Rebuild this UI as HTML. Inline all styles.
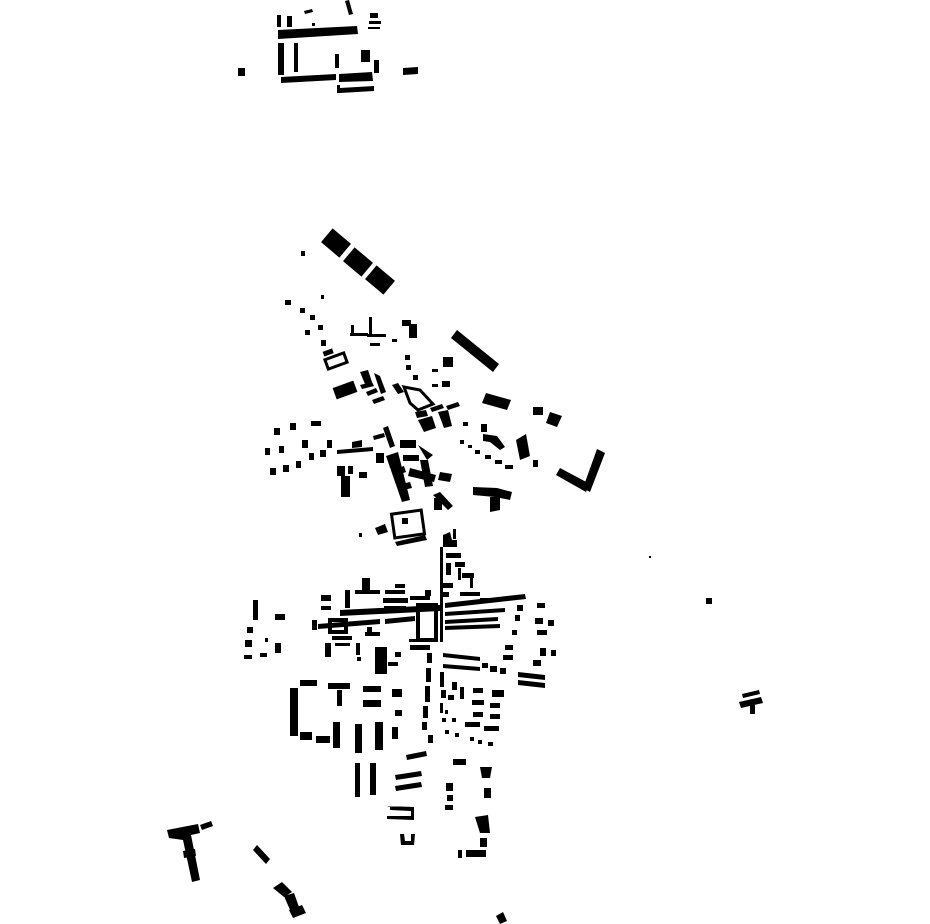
<!DOCTYPE html>
<html><head><meta charset="utf-8"><style>html,body{margin:0;padding:0;background:#fff}svg{display:block}</style></head>
<body>
<svg width="930" height="924" viewBox="0 0 930 924" xmlns="http://www.w3.org/2000/svg">
<g fill="#000">
<!-- top cluster -->
<polygon points="278,30 357,26 358,34 278,39"/>
<rect x="277" y="15" width="4" height="12"/>
<rect x="287" y="16" width="5" height="11"/>
<polygon points="304,11 312,9 313,12 305,14"/>
<polygon points="345,1 349,0 353,14 349,15"/>
<rect x="312" y="23" width="3" height="3"/>
<rect x="370" y="13" width="8" height="5"/>
<rect x="369" y="21" width="12" height="3"/>
<rect x="368" y="27" width="12" height="2"/>
<rect x="278" y="43" width="6" height="32"/>
<rect x="294" y="43" width="4" height="29"/>
<rect x="335" y="54" width="4" height="14"/>
<rect x="361" y="50" width="9" height="12"/>
<rect x="374" y="60" width="5" height="13"/>
<polygon points="281,77 336,74 336,80 281,83"/>
<polygon points="339,74 372,72 373,81 339,82"/>
<rect x="337" y="85" width="3" height="8"/>
<polygon points="340,88 374,86 374,91 340,93"/>
<rect x="238" y="68" width="7" height="8"/>
<polygon points="403,68 418,67 418,74 403,75"/>

<!-- middle cluster -->
<rect x="-12" y="-9" width="24" height="18" transform="translate(336,243) rotate(40)"/>
<rect x="-12" y="-9" width="24" height="18" transform="translate(358,262) rotate(40)"/>
<rect x="-12" y="-9" width="24" height="18" transform="translate(380,280) rotate(40)"/>
<rect x="301" y="251" width="4" height="5"/>
<polygon points="457,330 499,364 493,372 451,338"/>
<rect x="285" y="300" width="6" height="5"/>
<rect x="300" y="308" width="5" height="5"/>
<rect x="310" y="315" width="5" height="5"/>
<rect x="318" y="325" width="5" height="5"/>
<rect x="305" y="330" width="5" height="5"/>
<rect x="321" y="340" width="5" height="6"/>
<rect x="321" y="295" width="3" height="4"/>
<rect x="323" y="350" width="10" height="5" transform="rotate(-20 328 352)"/>
<rect x="326" y="356" width="20" height="10" fill="none" stroke="#000" stroke-width="3" transform="rotate(-20 336 361)"/>
<rect x="334" y="384" width="22" height="12" transform="rotate(-20 345 390)"/>
<rect x="351" y="325" width="3" height="10"/>
<rect x="350" y="333" width="18" height="3"/>
<rect x="369" y="317" width="3" height="18"/>
<rect x="367" y="334" width="19" height="3"/>
<rect x="370" y="343" width="10" height="3"/>
<rect x="392" y="339" width="5" height="3"/>
<rect x="402" y="320" width="9" height="6"/>
<rect x="409" y="324" width="8" height="14"/>
<rect x="405" y="355" width="5" height="5"/>
<rect x="406" y="365" width="5" height="5"/>
<rect x="413" y="375" width="5" height="5"/>
<rect x="443" y="357" width="10" height="10"/>
<rect x="432" y="369" width="6" height="3"/>
<rect x="432" y="384" width="6" height="3"/>
<rect x="442" y="381" width="8" height="6"/>
<polygon points="404,387 420,390 433,404 418,410 410,403" fill="none" stroke="#000" stroke-width="3"/>
<polygon points="360,372 368,370 372,382 365,384"/>
<polygon points="360,385 372,382 374,386 362,389"/>
<polygon points="366,392 376,388 378,392 368,396"/>
<polygon points="374,373 380,376 386,392 381,394"/>
<polygon points="372,400 383,396 385,400 374,404"/>
<polygon points="392,385 398,383 404,392 398,394"/>
<polygon points="415,412 426,410 428,416 417,418"/>
<polygon points="418,420 432,416 436,428 424,432"/>
<polygon points="430,408 442,404 444,408 432,412"/>
<polygon points="438,412 448,410 452,426 444,428"/>
<polygon points="446,406 458,402 460,406 448,410"/>
<polygon points="486,393 511,400 507,410 482,403"/>
<rect x="533" y="407" width="10" height="8"/>
<polygon points="550,412 562,416 557,427 546,423"/>
<polygon points="597,449 605,453 590,492 583,488"/>
<polygon points="556,475 560,468 590,484 586,492"/>
<polygon points="516,440 526,434 530,456 520,460"/>
<rect x="533" y="460" width="5" height="7"/>
<polygon points="473,487 497,488 512,492 510,500 495,497 473,495"/>
<polygon points="490,497 500,497 500,510 490,512"/>
<rect x="463" y="422" width="5" height="4"/>
<polygon points="481,424 487,424 487,432 481,432"/>
<polygon points="483,434 497,436 505,447 500,450 490,442 483,441"/>
<rect x="460" y="440" width="4" height="4"/>
<rect x="468" y="445" width="4" height="3"/>
<rect x="475" y="450" width="5" height="4"/>
<rect x="485" y="455" width="6" height="4"/>
<rect x="495" y="460" width="7" height="4"/>
<rect x="505" y="465" width="8" height="4"/>
<rect x="274" y="428" width="6" height="7"/>
<rect x="290" y="423" width="6" height="7"/>
<rect x="311" y="421" width="10" height="5"/>
<rect x="265" y="448" width="5" height="7"/>
<rect x="279" y="446" width="5" height="7"/>
<rect x="302" y="440" width="6" height="8"/>
<rect x="327" y="440" width="5" height="8"/>
<rect x="270" y="468" width="6" height="7"/>
<rect x="283" y="465" width="6" height="7"/>
<rect x="296" y="461" width="5" height="7"/>
<rect x="309" y="453" width="5" height="7"/>
<rect x="320" y="450" width="6" height="7"/>
<polygon points="337,450 373,447 373,451 337,454"/>
<polygon points="352,442 362,440 362,447 352,448"/>
<rect x="337" y="466" width="8" height="10"/>
<rect x="341" y="476" width="9" height="21"/>
<rect x="348" y="466" width="5" height="8"/>
<rect x="359" y="472" width="8" height="6"/>
<polygon points="383,428 388,426 395,446 390,448"/>
<polygon points="373,436 384,433 385,437 374,440"/>
<rect x="376" y="453" width="8" height="10"/>
<polygon points="386,456 398,452 410,500 402,502"/>
<polygon points="393,470 404,466 406,472 395,476"/>
<polygon points="397,485 410,482 412,488 399,491"/>
<rect x="400" y="440" width="16" height="8"/>
<rect x="403" y="455" width="16" height="6"/>
<polygon points="418,445 433,455 427,460"/>
<polygon points="420,460 428,460 433,486 425,487"/>
<polygon points="410,468 436,475 434,482 408,476"/>
<polygon points="440,472 452,474 450,482 438,480"/>
<polygon points="433,495 440,492 453,506 448,510"/>
<rect x="434" y="498" width="8" height="12"/>
<rect x="393" y="512" width="30" height="24" fill="none" stroke="#000" stroke-width="3" transform="rotate(-8 408 524)"/>
<rect x="402" y="518" width="6" height="6"/>
<polygon points="395,542 425,535 427,540 397,546"/>
<polygon points="375,528 385,524 388,532 378,535"/>
<rect x="359" y="533" width="3" height="4"/>
<polygon points="443,535 450,532 452,540 457,540 457,547 443,547"/>
<rect x="453" y="529" width="3" height="10"/>

<!-- lower cluster -->
<rect x="253" y="600" width="5" height="20"/>
<rect x="247" y="627" width="6" height="6"/>
<rect x="245" y="640" width="7" height="7"/>
<rect x="244" y="655" width="8" height="4"/>
<rect x="260" y="653" width="7" height="4"/>
<rect x="275" y="614" width="10" height="6"/>
<rect x="265" y="638" width="3" height="4"/>
<rect x="275" y="643" width="6" height="10"/>
<rect x="321" y="595" width="10" height="6"/>
<rect x="321" y="606" width="10" height="4"/>
<rect x="345" y="590" width="5" height="18"/>
<rect x="362" y="578" width="8" height="12"/>
<rect x="355" y="590" width="25" height="4"/>
<polygon points="340,610 440,605 440,611 340,616"/>
<polygon points="318,624 380,619 380,624 318,629"/>
<polygon points="385,619 415,616 415,621 385,624"/>
<rect x="384" y="606" width="22" height="5"/>
<rect x="385" y="590" width="20" height="4"/>
<rect x="395" y="584" width="10" height="4"/>
<rect x="383" y="598" width="25" height="5"/>
<rect x="410" y="596" width="20" height="4"/>
<rect x="425" y="590" width="6" height="6"/>
<rect x="418" y="605" width="18" height="35" fill="none" stroke="#000" stroke-width="4"/>
<rect x="330" y="620" width="16" height="12" fill="none" stroke="#000" stroke-width="4"/>
<rect x="312" y="620" width="5" height="10"/>
<rect x="332" y="636" width="20" height="4"/>
<rect x="365" y="632" width="15" height="4"/>
<rect x="367" y="627" width="5" height="8"/>
<rect x="325" y="643" width="6" height="14"/>
<rect x="335" y="643" width="15" height="3"/>
<rect x="356" y="643" width="4" height="12"/>
<rect x="357" y="657" width="4" height="4"/>
<rect x="375" y="647" width="12" height="27"/>
<rect x="395" y="652" width="6" height="5"/>
<rect x="388" y="662" width="10" height="4"/>
<rect x="410" y="645" width="20" height="5"/>
<rect x="409" y="639" width="14" height="3"/>
<rect x="440" y="547" width="3" height="95"/>
<rect x="446" y="553" width="15" height="5"/>
<rect x="446" y="563" width="5" height="12"/>
<rect x="455" y="562" width="10" height="5"/>
<rect x="458" y="568" width="3" height="12"/>
<rect x="462" y="573" width="12" height="5"/>
<rect x="470" y="578" width="3" height="10"/>
<rect x="443" y="583" width="10" height="5"/>
<rect x="443" y="592" width="6" height="5"/>
<polygon points="445,603 525,594 526,599 445,608"/>
<polygon points="445,612 505,608 505,612 445,616"/>
<polygon points="445,620 498,617 498,621 445,624"/>
<polygon points="445,626 500,624 500,628 445,630"/>
<rect x="460" y="592" width="20" height="4"/>
<rect x="480" y="598" width="15" height="4"/>
<rect x="517" y="605" width="6" height="6"/>
<rect x="515" y="615" width="5" height="6"/>
<rect x="512" y="630" width="5" height="5"/>
<rect x="537" y="603" width="8" height="5"/>
<rect x="535" y="618" width="8" height="6"/>
<rect x="548" y="620" width="6" height="6"/>
<rect x="537" y="630" width="10" height="5"/>
<rect x="540" y="648" width="6" height="8"/>
<rect x="551" y="650" width="5" height="6"/>
<rect x="533" y="660" width="8" height="6"/>
<rect x="427" y="653" width="5" height="10"/>
<rect x="426" y="668" width="5" height="14"/>
<rect x="425" y="686" width="5" height="16"/>
<rect x="423" y="706" width="5" height="12"/>
<rect x="422" y="722" width="5" height="8"/>
<rect x="428" y="735" width="5" height="8"/>
<polygon points="443,653 480,657 480,661 443,657"/>
<polygon points="443,664 480,667 480,671 443,668"/>
<rect x="482" y="663" width="6" height="5"/>
<rect x="490" y="666" width="7" height="6"/>
<rect x="500" y="668" width="6" height="6"/>
<rect x="503" y="655" width="10" height="5"/>
<rect x="505" y="645" width="8" height="5"/>
<polygon points="518,672 545,675 545,680 518,677"/>
<polygon points="518,680 545,683 545,688 518,685"/>
<rect x="440" y="672" width="4" height="15"/>
<rect x="441" y="690" width="5" height="8"/>
<rect x="452" y="682" width="5" height="8"/>
<rect x="448" y="695" width="6" height="5"/>
<rect x="460" y="687" width="4" height="12"/>
<rect x="473" y="688" width="10" height="5"/>
<rect x="492" y="690" width="12" height="7"/>
<rect x="472" y="700" width="12" height="5"/>
<rect x="490" y="703" width="10" height="5"/>
<rect x="473" y="712" width="10" height="5"/>
<rect x="490" y="714" width="10" height="5"/>
<rect x="465" y="722" width="15" height="5"/>
<rect x="484" y="726" width="15" height="5"/>
<rect x="440" y="703" width="3" height="10"/>
<rect x="445" y="710" width="3" height="4"/>
<rect x="442" y="718" width="4" height="4"/>
<rect x="452" y="718" width="4" height="4"/>
<rect x="445" y="730" width="4" height="4"/>
<rect x="455" y="733" width="4" height="4"/>
<rect x="470" y="737" width="4" height="4"/>
<rect x="478" y="740" width="4" height="4"/>
<rect x="488" y="742" width="5" height="4"/>
<rect x="290" y="688" width="8" height="48"/>
<rect x="300" y="680" width="17" height="6"/>
<rect x="328" y="683" width="22" height="6"/>
<rect x="337" y="690" width="5" height="16"/>
<rect x="363" y="686" width="18" height="6"/>
<rect x="363" y="700" width="18" height="7"/>
<rect x="392" y="689" width="10" height="8"/>
<rect x="395" y="710" width="7" height="6"/>
<rect x="300" y="732" width="12" height="8"/>
<rect x="316" y="736" width="14" height="7"/>
<rect x="333" y="722" width="7" height="26"/>
<rect x="355" y="724" width="7" height="29"/>
<rect x="375" y="722" width="8" height="28"/>
<rect x="392" y="727" width="6" height="12"/>
<rect x="355" y="763" width="5" height="34"/>
<rect x="370" y="763" width="6" height="32"/>
<polygon points="406,755 426,751 427,756 407,760"/>
<polygon points="395,775 421,771 422,776 396,780"/>
<polygon points="395,786 421,782 422,787 396,791"/>
<polygon points="387,806 414,807 414,820 387,819 387,816 411,816 411,811 390,810 390,806" />
<polygon points="400,834 404,834 405,841 411,841 411,834 415,834 414,845 401,845"/>
<rect x="453" y="759" width="13" height="6"/>
<polygon points="480,767 492,767 490,778 482,778"/>
<rect x="446" y="783" width="7" height="8"/>
<rect x="447" y="795" width="6" height="6"/>
<rect x="445" y="805" width="8" height="5"/>
<rect x="484" y="788" width="7" height="10"/>
<polygon points="475,817 488,815 490,833 480,833"/>
<rect x="480" y="838" width="7" height="9"/>
<rect x="458" y="850" width="4" height="8"/>
<rect x="466" y="850" width="20" height="7"/>
<polygon points="253,850 257,845 270,859 266,864"/>

<!-- outliers -->
<polygon points="167,830 198,824 200,833 191,835 200,880 192,882 183,840 169,838"/>
<polygon points="200,825 211,821 213,826 202,830"/>
<polygon points="183,851 195,849 196,856 184,858"/>
<polygon points="273,888 282,882 292,892 284,897"/>
<polygon points="284,896 294,893 299,907 290,910"/>
<polygon points="289,910 302,905 306,913 293,918"/>
<polygon points="496,916 503,912 507,921 500,924"/>
<rect x="706" y="598" width="6" height="6"/>
<rect x="649" y="556" width="2" height="2"/>
<polygon points="742,694 759,690 760,694 743,698"/>
<polygon points="739,702 761,697 763,703 741,708"/>
<rect x="750" y="705" width="5" height="9"/>
</g>
</svg>
</body></html>
